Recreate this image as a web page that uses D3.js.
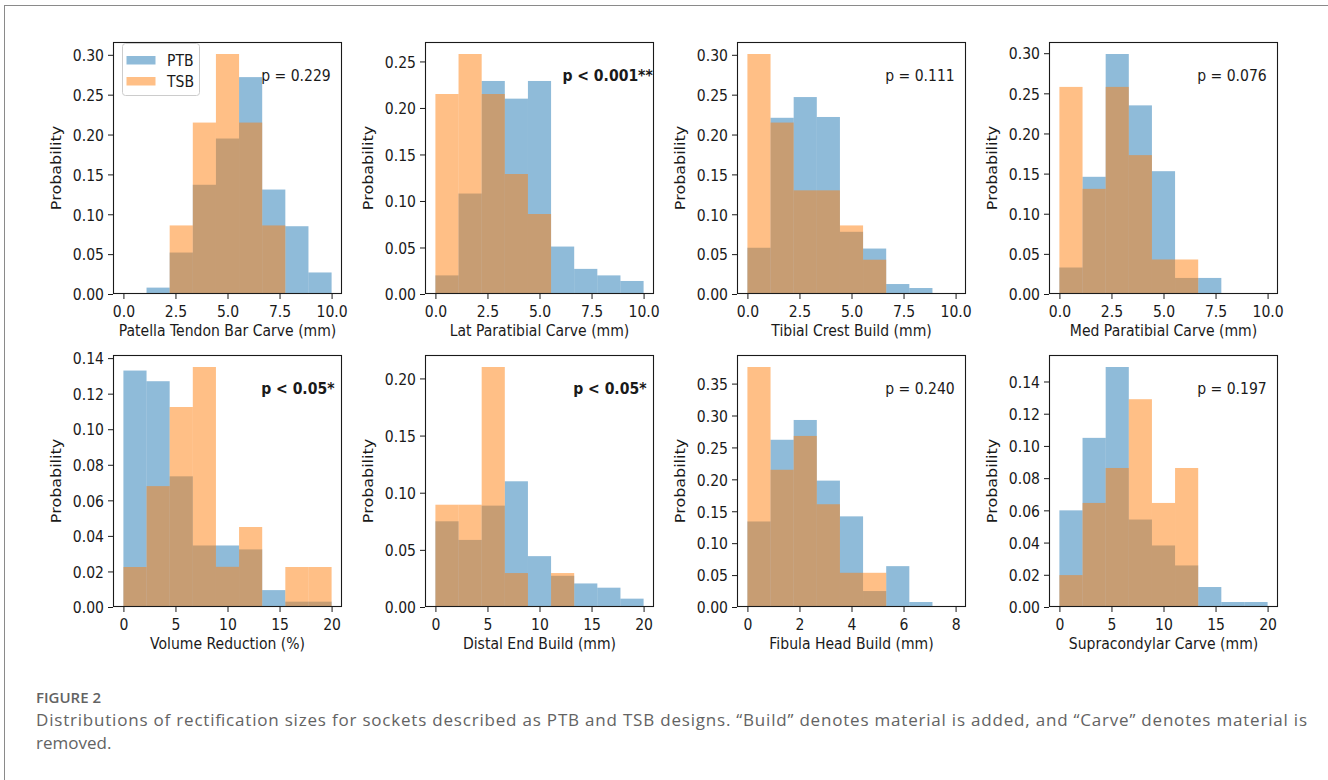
<!DOCTYPE html>
<html>
<head>
<meta charset="utf-8">
<script src="https://cdn.jsdelivr.net/npm/d3@7"></script>
<style>
  body { margin: 0; background: #fff; }
  svg { display: block; }
</style>
</head>
<body>
<div id="chart"></div>
<script>
// Histograms of PTB vs TSB rectification sizes (density per bin)

let titles = ["Patella Tendon Bar Carve (mm)", "Lat Paratibial Carve (mm)",
              "Tibial Crest Build (mm)", "Med Paratibial Carve (mm)",
              "Volume Reduction (%)", "Distal End Build (mm)",
              "Fibula Head Build (mm)", "Supracondylar Carve (mm)"];

// each histogram uses 9 equal bins over this range
let binRanges = [[0, 10], [0, 10], [0, 10], [0, 10], [0, 20], [0, 20], [0, 8], [0, 20]];

let ptb = [
  [0, 0.008, 0.052, 0.137, 0.195, 0.272, 0.131, 0.085, 0.027],
  [0.020, 0.108, 0.229, 0.210, 0.229, 0.051, 0.027, 0.020, 0.014],
  [0.058, 0.221, 0.247, 0.222, 0.078, 0.057, 0.0125, 0.0075, 0],
  [0.033, 0.146, 0.299, 0.235, 0.153, 0.020, 0.020, 0, 0],
  [0.133, 0.127, 0.0735, 0.0346, 0.0346, 0.0324, 0.0095, 0.003, 0.003],
  [0.075, 0.0587, 0.0887, 0.110, 0.0445, 0.0273, 0.0206, 0.0169, 0.0073],
  [0.134, 0.262, 0.293, 0.198, 0.142, 0.025, 0.064, 0.0078, 0],
  [0.060, 0.105, 0.149, 0.0543, 0.0382, 0.0258, 0.0124, 0.0031, 0.0031]
];

let tsb = [
  [0, 0, 0.086, 0.215, 0.301, 0.215, 0.086, 0, 0],
  [0.215, 0.258, 0.215, 0.129, 0.086, 0, 0, 0, 0],
  [0.301, 0.215, 0.130, 0.130, 0.086, 0.043, 0, 0, 0],
  [0.258, 0.131, 0.258, 0.173, 0.043, 0.043, 0, 0, 0],
  [0.0225, 0.068, 0.1125, 0.135, 0.0226, 0.045, 0, 0.0225, 0.0225],
  [0.0895, 0.0895, 0.210, 0.0297, 0, 0.0297, 0, 0, 0],
  [0.376, 0.215, 0.268, 0.161, 0.0536, 0.0536, 0, 0, 0],
  [0.0198, 0.0646, 0.0863, 0.129, 0.0646, 0.0863, 0, 0, 0]
];

let xTicks = [
  [0, 2.5, 5, 7.5, 10], [0, 2.5, 5, 7.5, 10], [0, 2.5, 5, 7.5, 10], [0, 2.5, 5, 7.5, 10],
  [0, 5, 10, 15, 20], [0, 5, 10, 15, 20], [0, 2, 4, 6, 8], [0, 5, 10, 15, 20]
];
let xTickFormats = [".1f", ".1f", ".1f", ".1f", "d", "d", "d", "d"];

let yTicks = [
  [0, 0.05, 0.10, 0.15, 0.20, 0.25, 0.30],
  [0, 0.05, 0.10, 0.15, 0.20, 0.25],
  [0, 0.05, 0.10, 0.15, 0.20, 0.25, 0.30],
  [0, 0.05, 0.10, 0.15, 0.20, 0.25, 0.30],
  [0, 0.02, 0.04, 0.06, 0.08, 0.10, 0.12, 0.14],
  [0, 0.05, 0.10, 0.15, 0.20],
  [0, 0.05, 0.10, 0.15, 0.20, 0.25, 0.30, 0.35],
  [0, 0.02, 0.04, 0.06, 0.08, 0.10, 0.12, 0.14]
];

let pTexts = ["p = 0.229", "p < 0.001**", "p = 0.111", "p = 0.076",
              "p < 0.05*", "p < 0.05*", "p = 0.240", "p = 0.197"];
let pBold = [false, true, false, false, true, true, false, false];

let seriesNames = ["PTB", "TSB"];
let seriesColors = ["#1f77b4", "#ff7f0e"];

let captionHead = "FIGURE 2";
let captionLines = [
  "Distributions of rectification sizes for sockets described as PTB and TSB designs. \u201CBuild\u201D denotes material is added, and \u201CCarve\u201D denotes material is",
  "removed."
];

////////////////////////////////////////////////////////////////////////
// layout

let svgW = 1328, svgH = 780;
let colX = [113, 425, 737, 1049];
let rowY = [42, 355];
let pw = 229, ph = 252;
let stretch = 1.14;   // the source picture's text is a bit taller than wide
let font = "'DejaVu Sans', sans-serif";
let ink = "#1a1a1a";

let svg = d3.select("#chart").append("svg")
  .attr("width", svgW)
  .attr("height", svgH);

svg.append("rect").attr("width", svgW).attr("height", svgH).attr("fill", "#fff");

// thin frame round the figure (only top and left show)
svg.append("rect")
  .attr("x", 4.5).attr("y", 5.5)
  .attr("width", svgW + 20).attr("height", svgH + 20)
  .attr("fill", "none")
  .attr("stroke", "#8a8a8a");

function addText(sel, x, y, str, opts) {
  opts = opts || {};
  let t = sel.append("text")
    .attr("transform", "translate(" + x + "," + y + ") scale(1," + stretch + ")" + (opts.rotate ? " rotate(-90)" : ""))
    .attr("dy", opts.dy || "0.36em")
    .attr("text-anchor", opts.anchor || "start")
    .attr("font-family", font)
    .attr("font-size", opts.size || 14)
    .attr("font-weight", opts.bold ? "bold" : "normal")
    .attr("fill", ink)
    .text(str);
  return t;
}

function drawPanel(i) {
  let px = colX[i % 4], py = rowY[Math.floor(i / 4)];
  let g = svg.append("g").attr("transform", "translate(" + px + "," + py + ")");

  let lo = binRanges[i][0], hi = binRanges[i][1];
  let nb = ptb[i].length;
  let edges = d3.range(nb + 1).map(k => lo + (hi - lo) * k / nb);
  let pad = (hi - lo) * 0.05;
  let ymax = d3.max(ptb[i].concat(tsb[i])) * 1.05;

  let x = d3.scaleLinear().domain([lo - pad, hi + pad]).range([0, pw]);
  let y = d3.scaleLinear().domain([0, ymax]).range([ph, 0]);

  [ptb[i], tsb[i]].forEach(function(vals, s) {
    g.append("g").selectAll("rect")
      .data(vals.map((v, k) => ({ v: v, x0: edges[k], x1: edges[k + 1] })).filter(d => d.v > 0))
      .enter().append("rect")
      .attr("x", d => x(d.x0))
      .attr("width", d => x(d.x1) - x(d.x0))
      .attr("y", d => y(d.v))
      .attr("height", d => y(0) - y(d.v))
      .attr("fill", seriesColors[s])
      .attr("fill-opacity", 0.5);
  });

  // axes
  let fmtX = d3.format(xTickFormats[i]);
  let xAxis = g.append("g")
    .attr("transform", "translate(0," + ph + ")")
    .call(d3.axisBottom(x).tickValues(xTicks[i]).tickFormat(fmtX).tickSize(5).tickSizeOuter(0).tickPadding(5.5));
  let yAxis = g.append("g")
    .call(d3.axisLeft(y).tickValues(yTicks[i]).tickFormat(d3.format(".2f")).tickSize(5).tickSizeOuter(0).tickPadding(4));

  [xAxis, yAxis].forEach(function(ax) {
    ax.select(".domain").remove();
    ax.selectAll("line").attr("stroke", ink);
    ax.selectAll("text")
      .attr("font-family", font)
      .attr("font-size", 14)
      .attr("fill", ink)
      .attr("transform", "scale(1," + stretch + ")");
  });
  yAxis.selectAll("text").attr("dy", "0.36em");

  // frame
  g.append("rect")
    .attr("x", 0.5).attr("y", 0.5)
    .attr("width", pw - 1).attr("height", ph - 1)
    .attr("fill", "none")
    .attr("stroke", ink)
    .attr("stroke-width", 1.1);

  addText(g, pw / 2, ph + 36, titles[i], { anchor: "middle" });
  addText(g, -56, ph / 2, "Probability", { anchor: "middle", rotate: true, dy: "0.32em" });

  let pxFrac = (i === 1) ? 0.60 : 0.647;
  addText(g, pw * pxFrac, ph * 0.13, pTexts[i], { bold: pBold[i] });

  if (i === 0) {
    let leg = g.append("g").attr("transform", "translate(9,1)");
    leg.append("rect")
      .attr("x", 0.5).attr("y", 0.5)
      .attr("width", 77).attr("height", 52)
      .attr("rx", 3)
      .attr("fill", "#fff").attr("fill-opacity", 0.8)
      .attr("stroke", "#cccccc");
    seriesNames.forEach(function(name, s) {
      leg.append("rect")
        .attr("x", 4.5).attr("y", 13 + s * 21)
        .attr("width", 29).attr("height", 8.5)
        .attr("fill", seriesColors[s]).attr("fill-opacity", 0.5);
      addText(leg, 45, 17.5 + s * 21, name);
    });
  }
}

d3.range(8).forEach(drawPanel);

// caption
svg.append("text")
  .attr("x", 36).attr("y", 703)
  .attr("font-family", "'Open Sans', sans-serif")
  .attr("font-size", 15)
  .attr("font-weight", 600)
  .attr("fill", "#636363")
  .text(captionHead);

svg.selectAll("text.cap")
  .data(captionLines)
  .enter().append("text")
  .attr("class", "cap")
  .attr("x", 36)
  .attr("y", (d, k) => 726 + k * 23)
  .attr("font-family", "'Open Sans', sans-serif")
  .attr("font-size", 17)
  .attr("fill", "#636363")
  .each(function(d, k) {
    // first line runs to the right edge of the caption block
    if (k === 0) d3.select(this).attr("textLength", 1271).attr("lengthAdjust", "spacing");
  })
  .text(d => d);
</script>
</body>
</html>
